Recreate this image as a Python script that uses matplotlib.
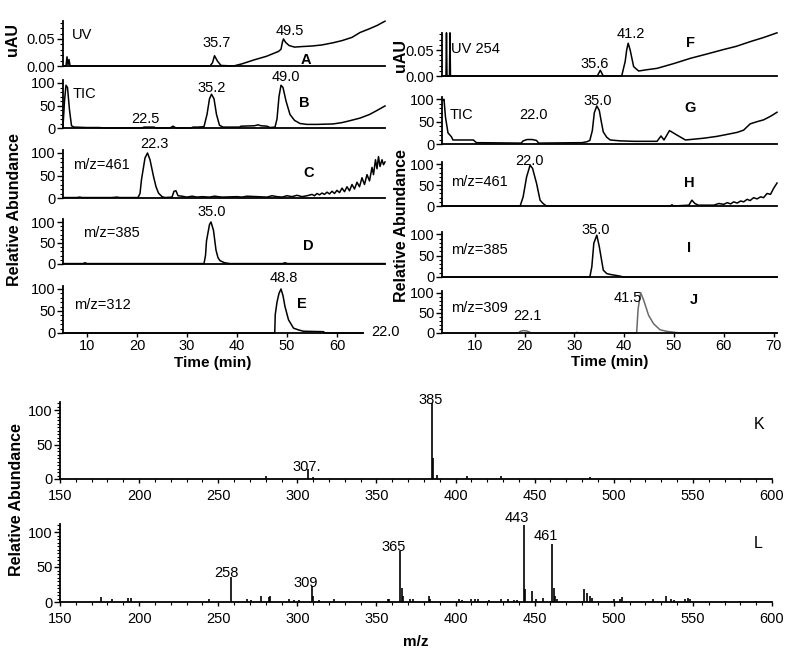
import matplotlib
matplotlib.use('Agg')
import matplotlib.pyplot as plt
from matplotlib.ticker import MultipleLocator, FormatStrFormatter

plt.rcParams['font.family'] = ['Liberation Sans', 'DejaVu Sans']

# ---------------- data: chromatograms (time in min) ----------------
A_t = [5.2, 5.8, 6.0, 6.2, 6.4, 6.6, 6.8, 34.6, 35.1, 35.5, 36.1, 36.8, 39.3, 41.0, 43.3, 45.9, 48.3,
       48.8, 49.1, 49.3, 49.7, 50.4, 51.5, 53.0, 55.0, 57.0, 59.2, 61.0, 63.0, 64.6, 66.5, 68.0, 69.6]
A_v = [0, 0, 0.017, 0.002, 0.012, 0.001, 0, 0, 0.006, 0.019, 0.009, 0.001, 0, 0.004, 0.011, 0.018, 0.027,
       0.031, 0.045, 0.05, 0.044, 0.038, 0.035, 0.036, 0.037, 0.039, 0.043, 0.047, 0.053, 0.062, 0.069, 0.075, 0.083]

B_t = [5.2, 5.5, 5.8, 6.1, 6.5, 6.9, 7.4, 10, 12.5, 13.5, 21.0, 21.4, 23.4, 23.8, 26.6, 27.2, 27.8, 30.8,
       31.2, 32.2, 33.4, 34.0, 34.5, 34.9, 35.4, 35.9, 36.5, 37.2, 40.5, 40.8, 43.5, 44.2, 44.8, 46.0, 46.6,
       47.6, 48.0, 48.4, 48.8, 49.2, 49.8, 50.6, 51.5, 52.6, 54.0, 56.0, 59.2, 61.0, 62.5, 64.6, 66.5, 68.0, 69.6]
B_v = [3, 60, 95, 90, 40, 5, 2, 1, 1, 0, 0, 2, 2, 0, 0, 4, 0, 0,
       2, 2, 3, 30, 65, 75, 65, 30, 6, 2, 2, 4, 5, 7, 5, 4, 1,
       2, 20, 70, 95, 90, 60, 30, 17, 10, 8, 8, 9, 12, 16, 22, 30, 39, 49]

C_t = [5.2, 8, 8.5, 9, 15, 16, 16.5, 20.2, 20.6, 20.9, 21.6, 22.1, 22.6, 23.3, 23.8, 24.3, 25.0, 25.6,
       27.0, 27.4, 27.8, 28.2, 29, 30, 31, 32, 33, 34.5, 35.5, 37, 40, 41, 42, 44, 46, 47, 48, 49, 50, 51,
       52, 53, 54, 55, 55.5, 56, 56.5, 57, 57.5, 58, 58.5, 59, 59.5, 60, 60.5, 61, 61.5, 62, 62.5, 63,
       63.5, 64, 64.5, 65, 65.5, 66, 66.5, 67, 67.3, 67.7, 68.0, 68.3, 68.6, 69.0, 69.3, 69.6]
C_v = [1, 1, 2, 1, 1, 2, 1, 1, 10, 41, 89, 100, 85, 48, 25, 11, 3, 1,
       2, 15, 16, 5, 4, 2, 4, 2, 3, 2, 4, 2, 3, 2, 4, 3, 2, 5, 3, 2, 5, 3,
       6, 3, 5, 8, 5, 10, 7, 11, 8, 13, 9, 15, 10, 17, 12, 22, 14, 25, 16, 30,
       20, 35, 25, 45, 30, 52, 38, 68, 52, 85, 65, 92, 70, 85, 74, 80]

D_t = [5.2, 9.2, 9.6, 10.0, 33.4, 33.7, 33.9, 34.5, 34.8, 35.3, 35.8, 36.2, 36.6, 37.5, 38.6, 49.1, 49.6, 50.1, 69.6]
D_v = [1, 1, 3, 1, 1, 20, 55, 94, 100, 80, 33, 15, 8, 3, 1, 1, 3, 1, 1]

E_t = [5.2, 47.55, 47.65, 48.0, 48.4, 48.8, 49.2, 49.6, 50.3, 51.3, 52.3, 53.3, 57.3, 57.6, 65.2]
E_v = [0, 0, 42, 70, 90, 100, 85, 60, 30, 11, 7, 4, 3, 0, 0]

F_t = [3.4, 4.2, 4.3, 4.4, 4.9, 5.0, 5.1, 34.6, 35.2, 35.8, 39.5, 40.2, 40.5, 40.8, 41.2, 41.9, 42.9,
       44.5, 46.6, 50.0, 53.3, 56.5, 60.0, 62.5, 65.3, 68.0, 70.7]
F_v = [0, 0, 0.083, 0, 0, 0.083, 0, 0, 0.011, 0, 0, 0.028, 0.05, 0.063, 0.05, 0.018, 0.0096,
       0.012, 0.0147, 0.024, 0.034, 0.042, 0.051, 0.057, 0.066, 0.074, 0.083]

G_t = [3.6, 3.8, 4.1, 4.6, 5.3, 5.6, 9.7, 10.3, 19.3, 19.7, 20.5, 21.5, 22.4, 22.8, 31.5, 32.5, 33.1, 33.6,
       34.0, 34.5, 35.0, 35.4, 35.8, 36.5, 37.2, 39.2, 42, 46.6, 47.4, 48.0, 49.1, 50.6, 52.3, 53.3, 56,
       58.6, 60.0, 62.7, 64.0, 65.3, 66.7, 68.0, 69.4, 70.7]
G_v = [98, 100, 60, 25, 16, 9, 9, 3, 2, 7, 10, 10, 8, 2, 3, 5, 8, 30,
       70, 85, 75, 50, 27, 15, 9, 7, 6, 6, 18, 9, 30, 20, 9, 10, 13,
       17, 20, 26, 31, 45, 50, 54, 62, 71]

H_t = [3.4, 19.1, 19.7, 20.4, 21.1, 21.6, 22.4, 23.1, 23.7, 24.4, 49.3, 49.6, 49.9, 53.0, 53.6, 54.2, 54.9,
       58.0, 59.0, 60.0, 60.7, 61.4, 62.0, 62.7, 63.4, 64.0, 64.7, 65.3, 66.0, 66.7, 67.4, 68.0, 68.7,
       69.4, 70.0, 70.7]
H_v = [0, 0, 22, 70, 98, 90, 54, 14, 6, 0, 0, 3, 0, 2, 14, 6, 2,
       2, 6, 4, 8, 5, 10, 7, 12, 10, 16, 13, 20, 17, 22, 20, 30,
       28, 42, 55]

I_t = [3.4, 33.1, 33.5, 33.9, 34.5, 35.0, 35.8, 36.5, 37.2, 39.2, 39.8, 70.7]
I_v = [0, 0, 24, 79, 98, 71, 16, 8, 6, 2, 0, 0]

J_t = [3.4, 18.8, 19.1, 19.7, 20.4, 20.9, 21.2, 30.0, 30.5, 31.0, 42.5, 42.8, 43.3, 43.9, 44.9, 45.9,
       47.2, 48.6, 50.6, 51.5, 70.7]
J_v = [0, 0, 4, 6, 5, 3, 0, 0, 1.5, 0, 0, 60, 100, 82, 44, 23, 8, 4, 1, 0, 0]

# ---------------- data: mass spectra ----------------
K_mz = [280, 307, 310, 385, 386, 388, 407, 429, 485]
K_ab = [4, 14, 3, 110, 30, 6, 5, 5, 3]

L_mz = [176, 183, 193, 195, 244, 258, 268, 271, 277, 282, 283, 295, 298, 301, 309, 310, 314, 323, 357,
        358, 365, 366, 367, 371, 373, 383, 384, 402, 404, 410, 412, 414, 421, 429, 433, 437, 439, 443,
        444, 448, 451, 455, 461, 462, 463, 464, 481, 483, 485, 486, 500, 504, 505, 525, 533, 536, 538,
        545, 547, 548, 570, 580, 590]
L_ab = [7, 4, 6, 6, 5, 36, 5, 3, 8, 7, 8, 4, 3, 3, 23, 8, 3, 5, 4,
        4, 73, 20, 8, 5, 5, 8, 5, 5, 3, 5, 4, 4, 3, 4, 4, 3, 3, 110,
        18, 16, 5, 6, 83, 20, 8, 5, 19, 13, 8, 6, 5, 4, 7, 5, 8, 4, 3,
        5, 6, 5, 2, 2, 2]

# ---------------- annotations (text, x, y) ----------------
A_txt = [("UV", 6.9, 0.058, 'left'), ("35.7", 35.9, 0.042, 'center'), ("49.5", 50.5, 0.065, 'center')]
B_txt = [("TIC", 7.1, 75, 'left'), ("22.5", 21.6, 21, 'center'), ("35.2", 35.0, 88, 'center'), ("49.0", 49.7, 113, 'center')]
C_txt = [("m/z=461", 7.3, 73, 'left'), ("22.3", 23.4, 121, 'center')]
D_txt = [("m/z=385", 9.3, 73, 'left'), ("35.0", 34.9, 124, 'center')]
E_txt = [("m/z=312", 7.4, 64, 'left'), ("48.8", 49.3, 124, 'center'), ("22.0", 66.8, 2, 'left')]
F_txt = [("UV 254", 5.3, 0.051, 'left'), ("35.6", 34.1, 0.024, 'center'), ("41.2", 41.3, 0.080, 'center')]
G_txt = [("TIC", 5.0, 65, 'left'), ("22.0", 21.8, 65, 'center'), ("35.0", 34.6, 97, 'center')]
H_txt = [("m/z=461", 5.3, 58, 'left'), ("22.0", 21.0, 109, 'center')]
I_txt = [("m/z=385", 5.3, 63, 'left'), ("35.0", 34.2, 110, 'center')]
J_txt = [("m/z=309", 5.3, 61, 'left'), ("22.1", 20.5, 42, 'center'), ("41.5", 40.8, 86, 'center')]
K_txt = [("385", 384, 115), ("307.", 306, 18)]
L_txt = [("443", 439, 120), ("461", 457, 95), ("365", 361, 78), ("258", 255, 42), ("309", 305, 27)]

letters = {"A": (53.8, 0.012), "B": (53.4, 55), "C": (54.3, 55), "D": (54.3, 43), "E": (52.9, 67),
           "F": (53.3, 0.064), "G": (53.3, 80), "H": (53.1, 56), "I": (53.1, 69), "J": (54.1, 82),
           "K": (592, 79), "L": (591, 83)}

time_ticks_left = [10, 20, 30, 40, 50, 60]
time_ticks_right = [10, 20, 30, 40, 50, 60, 70]
mz_ticks = [150, 200, 250, 300, 350, 400, 450, 500, 550, 600]

# ---------------- layout ----------------
W, H = 786, 666
fig = plt.figure(figsize=(W / 100, H / 100), dpi=100)
FS = 10.5


def add_ax(x0, x1, y0, yref, ref, top):
    ytop = y0 - (top / ref) * (y0 - yref)
    ax = fig.add_axes([x0 / W, 1 - y0 / H, (x1 - x0) / W, (y0 - ytop) / H])
    ax.set_ylim(0, top)
    for s in ('top', 'right'):
        ax.spines[s].set_visible(False)
    for s in ('left', 'bottom'):
        ax.spines[s].set_linewidth(1.3)
    ax.patch.set_alpha(0)
    ax.tick_params(axis='both', direction='out', labelsize=FS, pad=1.5, width=1)
    ax.tick_params(axis='y', which='major', length=4)
    ax.tick_params(axis='y', which='minor', length=2, width=0.8)
    return ax


def chrom(ax, t, v, xlim, uv=False, color='black', xticks=None):
    ax.plot(t, v, color=color, lw=1.1, clip_on=False)
    ax.set_xlim(*xlim)
    if uv:
        ax.set_yticks([0, 0.05])
        ax.yaxis.set_major_formatter(FormatStrFormatter('%.2f'))
        ax.yaxis.set_minor_locator(MultipleLocator(0.01))
    else:
        ax.set_yticks([0, 50, 100])
        ax.yaxis.set_minor_locator(MultipleLocator(10))
    if xticks is None:
        ax.set_xticks([])
    else:
        ax.set_xticks(xticks)
        ax.tick_params(axis='x', length=3)


def annotate(ax, txts, letter):
    for item in txts:
        s, x, y, ha = item
        ax.text(x, y, s, ha=ha, va='center', fontsize=FS, clip_on=False)
    lx, ly = letters[letter]
    ax.text(lx, ly, letter, ha='center', va='center', fontsize=FS, fontweight='bold')


LX = (5.2, 69.6)
RX = (3.4, 70.7)

axA = add_ax(63, 385, 66, 39, 0.05, 0.083)
chrom(axA, A_t, A_v, LX, uv=True)
annotate(axA, A_txt, "A")
axB = add_ax(63, 385, 128, 83, 100, 107)
chrom(axB, B_t, B_v, LX)
annotate(axB, B_txt, "B")
axC = add_ax(63, 385, 198, 153, 100, 107)
chrom(axC, C_t, C_v, LX)
annotate(axC, C_txt, "C")
axD = add_ax(63, 385, 264, 222, 100, 107)
chrom(axD, D_t, D_v, LX)
annotate(axD, D_txt, "D")
axE = add_ax(63, 363, 333, 289, 100, 107)
chrom(axE, E_t, E_v, (5.2, 65.2), xticks=time_ticks_left)
annotate(axE, E_txt, "E")
axE.set_xlabel("Time (min)", fontsize=11, fontweight='bold', labelpad=2)

axF = add_ax(442, 777, 76, 50, 0.05, 0.083)
chrom(axF, F_t, F_v, RX, uv=True)
annotate(axF, F_txt, "F")
axG = add_ax(442, 777, 144, 99.3, 100, 105)
chrom(axG, G_t, G_v, RX)
annotate(axG, G_txt, "G")
axH = add_ax(442, 777, 206, 164.3, 100, 105)
chrom(axH, H_t, H_v, RX)
annotate(axH, H_txt, "H")
axI = add_ax(442, 777, 277, 234.3, 100, 105)
chrom(axI, I_t, I_v, RX)
annotate(axI, I_txt, "I")
axJ = add_ax(442, 777, 333, 292.7, 100, 105)
chrom(axJ, J_t, J_v, RX, color='#6a6a6a', xticks=time_ticks_right)
annotate(axJ, J_txt, "J")
axJ.set_xlabel("Time (min)", fontsize=11, fontweight='bold', labelpad=1)


def spectrum(ax, mz, ab, txts, letter):
    ax.vlines(mz, 0, ab, colors='black', lw=1.2)
    ax.set_xlim(150, 600)
    ax.set_xticks(mz_ticks)
    ax.xaxis.set_minor_locator(MultipleLocator(10))
    ax.tick_params(axis='x', which='major', length=3, pad=4)
    ax.tick_params(axis='x', which='minor', length=2, width=0.8)
    ax.set_yticks([0, 50, 100])
    ax.yaxis.set_minor_locator(MultipleLocator(5))
    for s, x, y in txts:
        ax.text(x, y, s, ha='center', va='center', fontsize=FS)
    lx, ly = letters[letter]
    ax.text(lx, ly, letter, ha='center', va='center', fontsize=FS + 1)


axK = add_ax(60, 772, 479, 410, 100, 112)
spectrum(axK, K_mz, K_ab, K_txt, "K")
axL = add_ax(60, 772, 602, 532, 100, 112)
spectrum(axL, L_mz, L_ab, L_txt, "L")
axL.set_xlabel("m/z", fontsize=11, fontweight='bold', labelpad=7)

# y axis labels
fig.text(13 / W, 1 - 40 / H, "uAU", rotation=90, ha='center', va='center', fontsize=11.5, fontweight='bold')
fig.text(401 / W, 1 - 55 / H, "uAU", rotation=90, ha='center', va='center', fontsize=11.5, fontweight='bold')
fig.text(15 / W, 1 - 210 / H, "Relative Abundance", rotation=90, ha='center', va='center', fontsize=11.5, fontweight='bold')
fig.text(402 / W, 1 - 226 / H, "Relative Abundance", rotation=90, ha='center', va='center', fontsize=11.5, fontweight='bold')
fig.text(17 / W, 1 - 500 / H, "Relative Abundance", rotation=90, ha='center', va='center', fontsize=11.5, fontweight='bold')

fig.savefig("out.png", dpi=100)
